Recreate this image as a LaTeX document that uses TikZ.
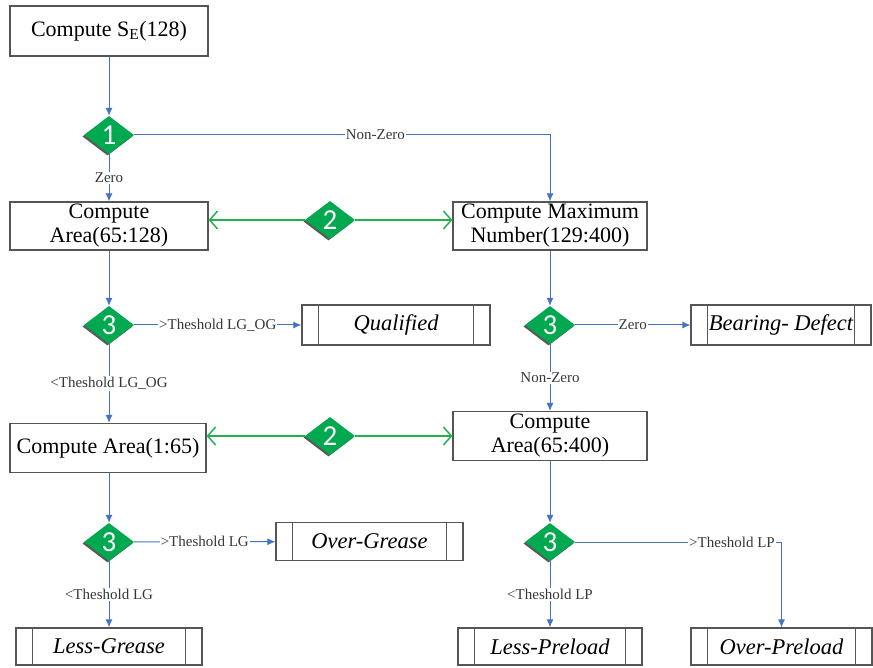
\documentclass[tikz,border=0pt]{standalone}
\usepackage{fontspec}
\setmainfont{Liberation Serif}
\newfontfamily\numfont{Carlito}
\usetikzlibrary{shapes.geometric,arrows.meta,shadows}
\definecolor{flowblue}{RGB}{68,114,196}
\definecolor{dgreen}{RGB}{0,168,80}
\definecolor{agreen}{RGB}{34,177,76}
\definecolor{boxgray}{RGB}{85,85,85}
\definecolor{lblgray}{RGB}{55,55,55}
\tikzset{
  box/.style={draw=boxgray, line width=1.2pt, fill=white, align=center, inner sep=0pt,
    font=\fontsize{22}{24}\selectfont},
  outbox/.style={box, font=\fontsize{22.5}{24}\selectfont\itshape,
    path picture={
      \draw[boxgray, line width=1.2pt] ([xshift=16.5pt]path picture bounding box.north west) -- ([xshift=16.5pt]path picture bounding box.south west);
      \draw[boxgray, line width=1.2pt] ([xshift=-16.5pt]path picture bounding box.north east) -- ([xshift=-16.5pt]path picture bounding box.south east);}},
  dia/.style={diamond, fill=dgreen, minimum width=50pt, minimum height=38pt, inner sep=0pt,
    text=white, font=\numfont\fontsize{29}{29}\selectfont,
    general shadow={fill=black!65, shadow xshift=-1.5pt, shadow yshift=-1.5pt}},
  flow/.style={draw=flowblue, line width=1pt, -{Latex[length=8pt,width=7pt]}},
  garrow/.style={draw=agreen, line width=1.5pt, -{Straight Barb[length=8pt,width=18pt]}},
  lbl/.style={fill=white, text=lblgray, inner sep=1pt, font=\fontsize{15}{16}\selectfont}
}
\begin{document}
\begin{tikzpicture}[x=1pt,y=-1pt]
\useasboundingbox (0,0) rectangle (873,668);
% process boxes
\node[box, minimum width=198pt, minimum height=50pt] (se) at (109,31) {Compute S\textsubscript{E}(128)};
\node[box, minimum width=198pt, minimum height=48pt] (b) at (109,226) {Compute\\Area(65:128)};
\node[box, minimum width=194pt, minimum height=48pt] (c) at (550,226) {Compute Maximum\\Number(129:400)};
\node[box, minimum width=196pt, minimum height=49pt] (d) at (108,448) {Compute Area(1:65)};
\node[box, minimum width=194pt, minimum height=49pt] (e) at (550,436) {Compute\\Area(65:400)};
% outcome boxes
\node[outbox, minimum width=188pt, minimum height=40pt] (qual) at (396,325) {Qualified};
\node[outbox, minimum width=180pt, minimum height=40pt] (bear) at (781,325) {Bearing- Defect};
\node[outbox, minimum width=187pt, minimum height=38pt] (og) at (369.5,541.5) {Over-Grease};
\node[outbox, minimum width=186pt, minimum height=37pt] (lg) at (109,646.5) {Less-Grease};
\node[outbox, minimum width=184pt, minimum height=37pt] (lp) at (550,646.5) {Less-Preload};
\node[outbox, minimum width=181pt, minimum height=37pt] (op) at (781.5,646.5) {Over-Preload};
% decisions
\node[dia] (d1) at (109,135) {1};
\node[dia] (d2a) at (330,220) {2};
\node[dia] (d3a) at (109,325) {3};
\node[dia] (d3b) at (550,325) {3};
\node[dia] (d2b) at (330,436) {2};
\node[dia] (d3c) at (109,542) {3};
\node[dia] (d3d) at (550,542) {3};
% flow connectors
\draw[flow] (se) -- (d1);
\draw[flow] (d1) -- node[lbl]{Zero} (b);
\draw[flow] (d1) -| node[lbl, pos=0.29]{Non-Zero} (c);
\draw[flow] (b) -- (d3a);
\draw[flow] (d3a) -- node[lbl]{>Theshold LG\_OG} (qual);
\draw[flow] (d3a) -- node[lbl]{<Theshold LG\_OG} (d3a |- d.north);
\draw[flow] (c) -- (d3b);
\draw[flow] (d3b) -- node[lbl]{Zero} (bear);
\draw[flow] (d3b) -- node[lbl]{Non-Zero} (e);
\draw[flow] (d.south -| d3c) -- (d3c);
\draw[flow] (d3c) -- node[lbl]{>Theshold LG} (og);
\draw[flow] (d3c) -- node[lbl]{<Theshold LG} (lg);
\draw[flow] (e) -- (d3d);
\draw[flow] (d3d) -- node[lbl]{<Theshold LP} (lp);
\draw[flow] (d3d) -| node[lbl, pos=0.38]{>Theshold LP} (op);
% green links
\draw[garrow] (d2a) -- (d2a -| b.east);
\draw[garrow] (d2a) -- (d2a -| c.west);
\draw[garrow] (d2b) -- (d2b -| d.east);
\draw[garrow] (d2b) -- (d2b -| e.west);
\end{tikzpicture}
\end{document}
